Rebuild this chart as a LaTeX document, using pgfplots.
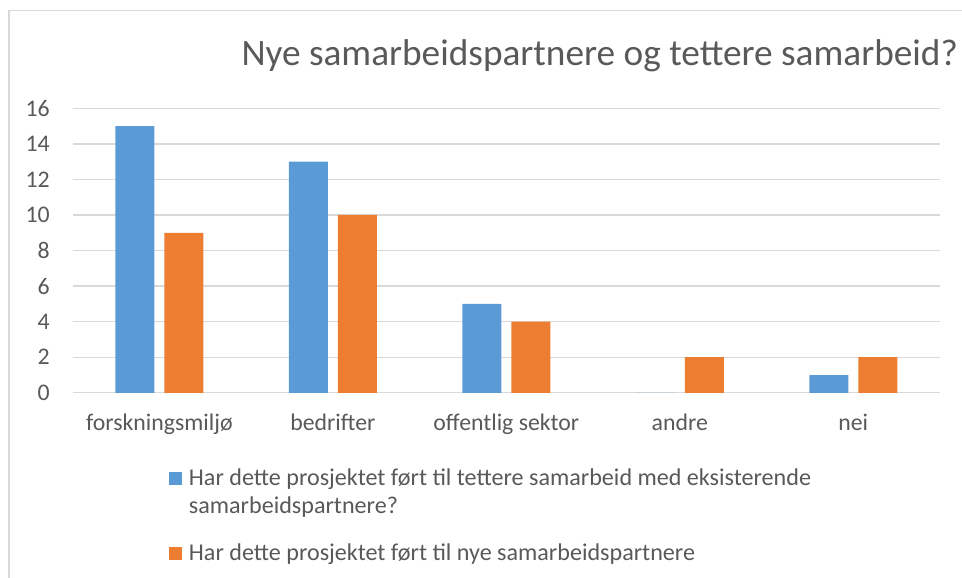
\documentclass[border=0pt]{standalone}
\usepackage{fontspec}
\setmainfont{Carlito}
\usepackage{pgfplots}
\pgfplotsset{compat=1.18}
\definecolor{cblue}{HTML}{5B9BD5}
\definecolor{corange}{HTML}{ED7D31}
\definecolor{gridgray}{HTML}{D9D9D9}
\definecolor{txt}{HTML}{595959}

\begin{document}
\begin{tikzpicture}[x=1pt,y=1pt]
\useasboundingbox (0,0) rectangle (962,578);
% chart frame (cut at right and bottom)
\draw[gridgray, line width=1.5pt] (9,0) -- (9,567.5) -- (962,567.5);
\node[anchor=base east, inner sep=0, text=txt, font=\fontsize{37.3}{44}\selectfont]
  at (958,512) {Nye samarbeidspartnere og tettere samarbeid?};
\begin{axis}[
    at={(72.7pt,185.2pt)}, anchor=south west,
    scale only axis, width=867.3pt, height=284.5pt,
    xmin=-0.5, xmax=4.5, ymin=0, ymax=16,
    ybar=10pt, bar width=39pt,
    axis line style={draw=none},
    major tick length=0pt,
    ytick={0,2,...,16},
    xtick={0,1,2,3,4},
    xticklabels={forskningsmiljø, bedrifter, offentlig sektor, andre, nei},
    ymajorgrids, grid style={gridgray, line width=1.4pt},
    /pgf/number format/assume math mode=true,
    ticklabel style={font=\fontsize{23.8}{28}\selectfont, text=txt, inner sep=0pt},
    yticklabel style={anchor=east, xshift=-22.7pt},
    xticklabel style={anchor=base, yshift=-38.2pt},
    legend cell align=left,
    legend style={at={(0.111,-0.2545)}, anchor=north west, draw=none, fill=none,
        inner sep=0pt, outer sep=0pt, row sep=54pt, column sep=0pt,
        font=\fontsize{24.1}{28.3}\selectfont, text=txt,
        nodes={inner sep=0pt, anchor=base west}},
    legend image code/.code={\fill[#1] (0pt,0pt) rectangle (13.3pt,13.3pt); \path (20pt,0pt);},
]
\addplot[fill=cblue, draw=none] coordinates {(0,15) (1,13) (2,5) (3,0) (4,1)};
\addplot[fill=corange, draw=none] coordinates {(0,9) (1,10) (2,4) (3,2) (4,2)};
\legend{{\begin{tabular}[t]{@{}l@{}}Har dette prosjektet ført til tettere samarbeid med eksisterende\\samarbeidspartnere?\end{tabular}},
        {\begin{tabular}[t]{@{}l@{}}Har dette prosjektet ført til nye samarbeidspartnere\end{tabular}}}
\end{axis}
\end{tikzpicture}
\end{document}
